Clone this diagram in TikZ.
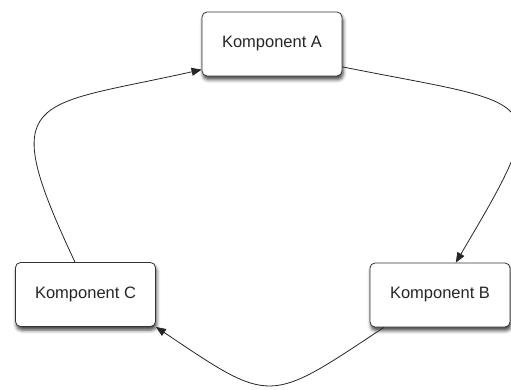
\documentclass[tikz,border=0pt]{standalone}
\usepackage{fontspec}
\setmainfont{Liberation Sans}
\usetikzlibrary{arrows.meta,shadows.blur}
\begin{document}
\begin{tikzpicture}[x=1pt,y=-1pt,
  comp/.style={draw=black!80, line width=0.8pt, fill=white, rounded corners=5pt,
    minimum width=140pt, minimum height=64pt, inner sep=0pt,
    font=\fontsize{16.5}{20}\selectfont, text=black!85,
    blur shadow={shadow xshift=1pt, shadow yshift=-3.5pt, shadow blur radius=3.5pt, shadow opacity=75}},
  flow/.style={draw=black!85, line width=0.8pt, -{Triangle[length=10pt,width=8pt]}}]
\useasboundingbox (0,0) rectangle (511,389);

% components
\node[comp] (A) at (272,44) {Komponent A};
\node[comp] (B) at (440,295) {Komponent B};
\node[comp] (C) at (85.5,294.5) {Komponent C};

% cycle A -> B -> C -> A
\draw[flow] (A.-18) .. controls +(200,40) and +(102,-172) .. (B.64);
\draw[flow] (B.-150) .. controls +(-116,77) and +(116,78) .. (C.south east);
\draw[flow] (C.108) .. controls +(-80,-170) and +(-170,38) .. (A.200);
\end{tikzpicture}
\end{document}
